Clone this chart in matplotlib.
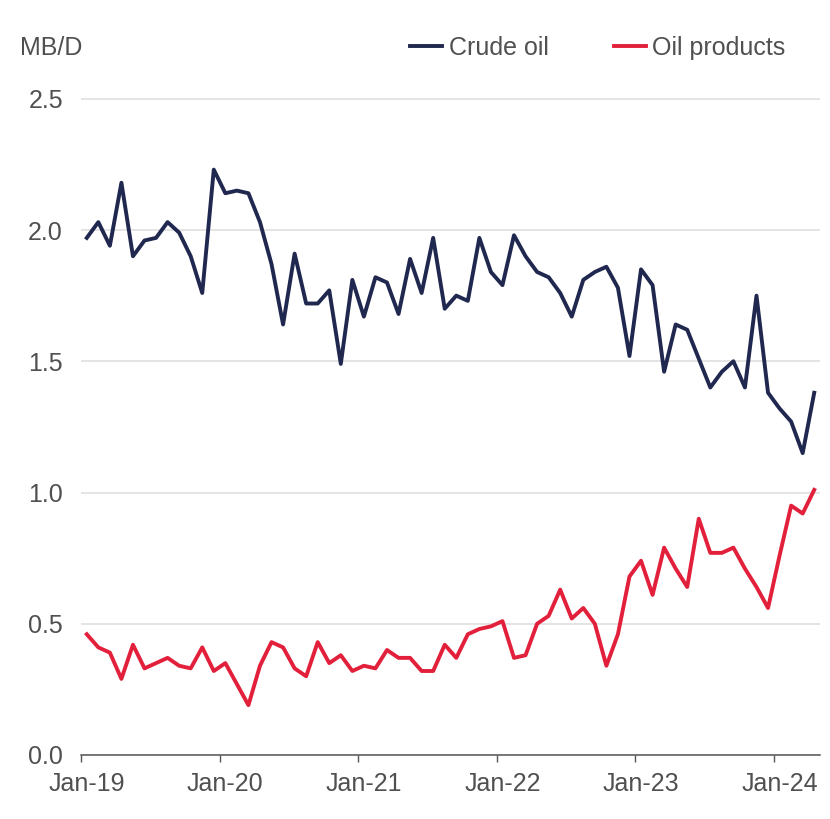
import numpy as np
import matplotlib
matplotlib.use("Agg")
import matplotlib.pyplot as plt

# monthly, Jan-19 .. Apr-24
crude_oil = [
    1.97, 2.03, 1.94, 2.18, 1.90, 1.96, 1.97, 2.03, 1.99, 1.90, 1.76, 2.23,
    2.14, 2.15, 2.14, 2.03, 1.87, 1.64, 1.91, 1.72, 1.72, 1.77, 1.49, 1.81,
    1.67, 1.82, 1.80, 1.68, 1.89, 1.76, 1.97, 1.70, 1.75, 1.73, 1.97, 1.84,
    1.79, 1.98, 1.90, 1.84, 1.82, 1.76, 1.67, 1.81, 1.84, 1.86, 1.78, 1.52,
    1.85, 1.79, 1.46, 1.64, 1.62, 1.51, 1.40, 1.46, 1.50, 1.40, 1.75, 1.38,
    1.32, 1.27, 1.15, 1.38,
]
oil_products = [
    0.46, 0.41, 0.39, 0.29, 0.42, 0.33, 0.35, 0.37, 0.34, 0.33, 0.41, 0.32,
    0.35, 0.27, 0.19, 0.34, 0.43, 0.41, 0.33, 0.30, 0.43, 0.35, 0.38, 0.32,
    0.34, 0.33, 0.40, 0.37, 0.37, 0.32, 0.32, 0.42, 0.37, 0.46, 0.48, 0.49,
    0.51, 0.37, 0.38, 0.50, 0.53, 0.63, 0.52, 0.56, 0.50, 0.34, 0.46, 0.68,
    0.74, 0.61, 0.79, 0.71, 0.64, 0.90, 0.77, 0.77, 0.79, 0.71, 0.64, 0.56,
    0.76, 0.95, 0.92, 1.01,
]
year_labels = ["Jan-19", "Jan-20", "Jan-21", "Jan-22", "Jan-23", "Jan-24"]
y_ticks = [0.0, 0.5, 1.0, 1.5, 2.0, 2.5]

navy = "#20284f"
red = "#e3203b"
text_col = "#505050"
fs = 18

plt.rcParams["font.family"] = ["Liberation Sans", "DejaVu Sans"]

fig = plt.figure(figsize=(8.3, 8.19), dpi=100)
ax = fig.add_axes([81 / 830, 64 / 819, 739 / 830, 672 / 819])

n = len(crude_oil)
x = np.arange(n) + 0.5
ax.plot(x, crude_oil, color=navy, lw=2.8, label="Crude oil")
ax.plot(x, oil_products, color=red, lw=2.8, label="Oil products")

ax.set_xlim(0, n)
ax.set_ylim(0, 2.56)

# ticks at category edges, labels at the January centre
ax.set_xticks(np.arange(0, n, 12))
ax.set_xticklabels([])
ax.set_xticks(np.arange(0, n, 12) + 0.5, minor=True)
ax.set_xticklabels(year_labels, minor=True)
ax.tick_params(axis="x", which="major", length=5, width=1, color="#555555")
ax.tick_params(axis="x", which="minor", length=0, pad=12, labelsize=fs, labelcolor=text_col)

ax.set_yticks(y_ticks)
ax.set_yticklabels([f"{v:.1f}" for v in y_ticks])
ax.tick_params(axis="y", length=0, pad=13, labelsize=fs, labelcolor=text_col)
ax.yaxis.grid(True, color="#dcdcdc", lw=1.1)
ax.set_axisbelow(True)

for s in ["top", "right", "left"]:
    ax.spines[s].set_visible(False)
ax.spines["bottom"].set_color("#555555")
ax.spines["bottom"].set_linewidth(1.1)

fig.text(20 / 830, 1 - 48 / 819, "MB/D", fontsize=fs, color=text_col, va="center", ha="left")

fig.legend(loc="center right", bbox_to_anchor=(808 / 830, 1 - 48 / 819), ncol=2,
           frameon=False, fontsize=fs, handlelength=1.3, handletextpad=0.25,
           columnspacing=2.6, labelcolor=text_col)

fig.savefig("out.png", dpi=100, facecolor="white")
